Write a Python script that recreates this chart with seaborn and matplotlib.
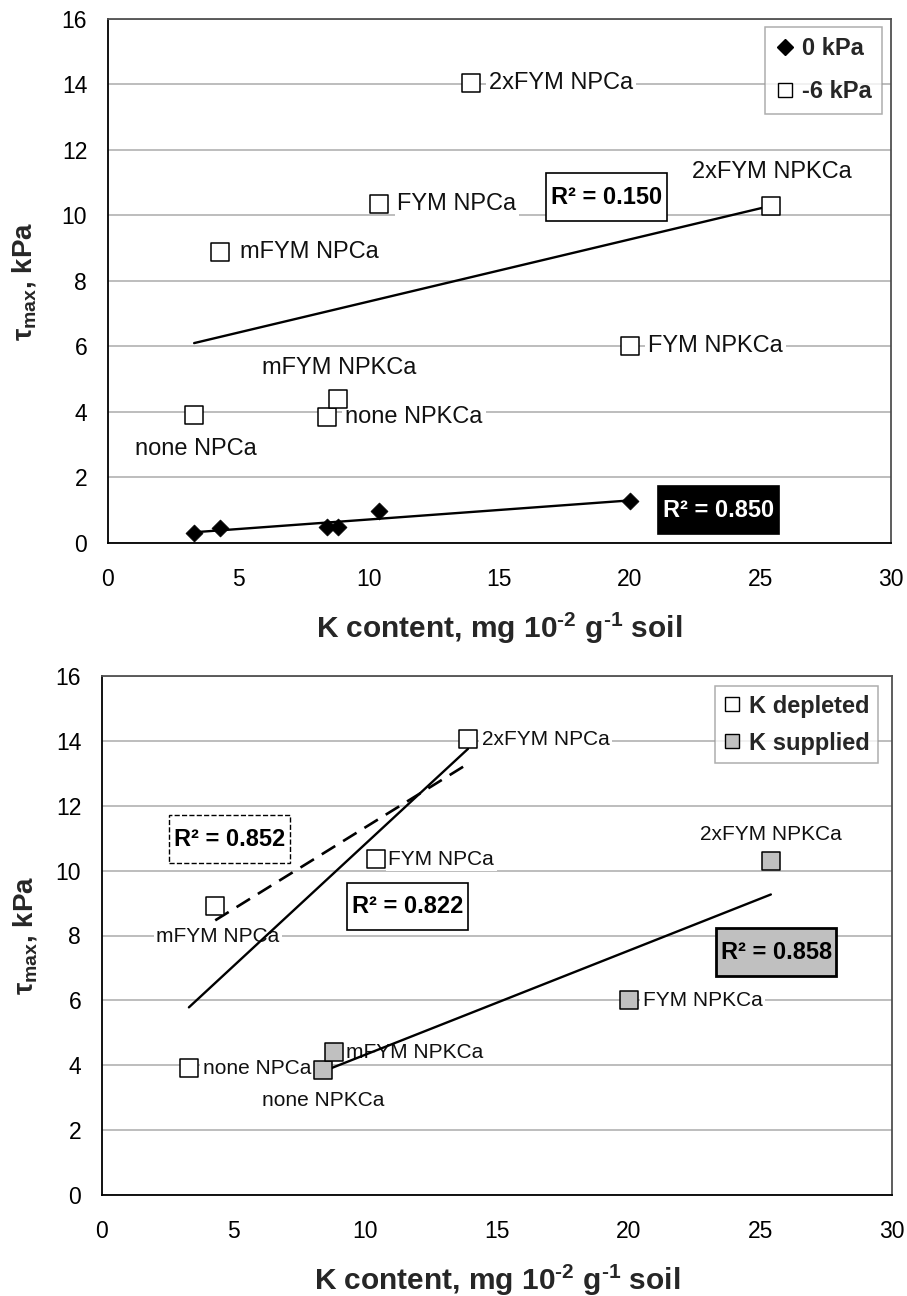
import matplotlib
matplotlib.use("Agg")
import matplotlib.pyplot as plt
import seaborn as sns
from matplotlib.lines import Line2D
from matplotlib.path import Path

# ---------------------------------------------------------------------------
# Data: K content (mg 10^-2 g^-1 soil) and maximum shear stress tau_max (kPa)
# ---------------------------------------------------------------------------
npca_names = ["none NPCa", "mFYM NPCa", "FYM NPCa", "2xFYM NPCa"]
npkca_names = ["none NPKCa", "mFYM NPKCa", "FYM NPKCa", "2xFYM NPKCa"]

k_npca = [3.3, 4.3, 10.4, 13.9]
k_npkca = [8.4, 8.8, 20.0, 25.4]

# tau_max at -6 kPa matric potential
tau6_npca = [3.9, 8.9, 10.35, 14.05]
tau6_npkca = [3.85, 4.4, 6.0, 10.3]

# tau_max at 0 kPa matric potential
k_0kpa = [3.3, 4.3, 8.4, 8.8, 10.4, 20.0]
tau_0kpa = [0.30, 0.47, 0.49, 0.50, 0.99, 1.28]

# coefficients of determination of the fitted lines
r2_0kpa = "0.850"
r2_6kpa = "0.150"
r2_depleted_manured = "0.852"
r2_depleted = "0.822"
r2_supplied = "0.858"

x_ticks = [0, 5, 10, 15, 20, 25, 30]
y_ticks = [0, 2, 4, 6, 8, 10, 12, 14, 16]

# ---------------------------------------------------------------------------
sns.set_style("white")
plt.rcParams["font.family"] = ["Liberation Sans", "DejaVu Sans"]
plt.rcParams["mathtext.fontset"] = "custom"
plt.rcParams["mathtext.rm"] = "Liberation Sans"
plt.rcParams["mathtext.it"] = "Liberation Sans:italic"
plt.rcParams["mathtext.bf"] = "Liberation Sans:bold"

W, H = 907, 1296
fig = plt.figure(figsize=(W / 100, H / 100), dpi=100)
fig.patch.set_facecolor("white")

ax_top = fig.add_axes([108 / W, 1 - 543 / H, (891 - 108) / W, (543 - 19) / H])
ax_bot = fig.add_axes([102 / W, 1 - 1195 / H, (892 - 102) / W, (1195 - 676) / H])

GRID = "#ababab"
GREY_FILL = "#c0c0c0"
HYPHEN = "\u2010"


def style_axes(ax, ylabel_pad):
    ax.set_xlim(0, 30)
    ax.set_ylim(0, 16)
    ax.set_xticks(x_ticks)
    ax.set_yticks(y_ticks)
    ax.set_axisbelow(True)
    ax.yaxis.grid(True, color=GRID, lw=1.1)
    ax.xaxis.grid(False)
    for side in ("left", "bottom"):
        ax.spines[side].set_color("black")
        ax.spines[side].set_linewidth(1.3)
    for side in ("top", "right"):
        ax.spines[side].set_color("#505050")
        ax.spines[side].set_linewidth(1.3)
    ax.tick_params(axis="both", direction="out", length=6, width=1,
                   color="black", labelsize=16.5, labelcolor="black")
    ax.tick_params(axis="x", pad=12)
    ax.tick_params(axis="y", pad=9)
    ax.set_xlabel("K content, mg 10$^{\\mathbf{" + HYPHEN + "2}}$ g$^{\\mathbf{"
                  + HYPHEN + "1}}$ soil",
                  fontsize=21.5, fontweight="bold", labelpad=14)
    ax.set_ylabel(r"$\mathbf{\tau_{max}}$, kPa", fontsize=20,
                  fontweight="bold", labelpad=ylabel_pad)


def label_points(ax, xs, ys, names, offsets, size):
    for x, y, name, (dx, dy, ha) in zip(xs, ys, names, offsets):
        ax.annotate(name, (x, y), xytext=(dx, dy), textcoords="offset points",
                    ha=ha, va="center", fontsize=size, color="#111111",
                    bbox=dict(boxstyle="square,pad=0.12", fc="white", ec="none"),
                    zorder=2)


def wide_box(x0, y0, width, height, mutation_size):
    """Rectangular frame with separate horizontal and vertical padding."""
    px, py = 0.2 * mutation_size, 0.52 * mutation_size
    x1, y1 = x0 + width + px, y0 + height + py
    x0, y0 = x0 - px, y0 - py
    return Path([(x0, y0), (x1, y0), (x1, y1), (x0, y1), (x0, y0)], closed=True)


def r2_box(ax, x, y, value, fc="white", tc="black", ls="-", lw=1.2):
    ax.text(x, y, f"R² = {value}", ha="center", va="center", fontsize=17,
            fontweight="bold", color=tc, zorder=6,
            bbox=dict(boxstyle=wide_box, fc=fc, ec="black", lw=lw, ls=ls))


# ---------------------------- upper panel ----------------------------------
ax = ax_top
sns.regplot(x=k_npca + k_npkca, y=tau6_npca + tau6_npkca, ax=ax, scatter=False,
            ci=None, truncate=True, color="black", line_kws=dict(lw=1.7, zorder=3))
sns.regplot(x=k_0kpa, y=tau_0kpa, ax=ax, scatter=False, ci=None, truncate=True,
            color="black", line_kws=dict(lw=1.7, zorder=3))
sns.scatterplot(x=k_npca + k_npkca, y=tau6_npca + tau6_npkca, ax=ax, marker="s",
                s=150, color="white", edgecolor="black", linewidth=1.1, zorder=4)
sns.scatterplot(x=k_0kpa, y=tau_0kpa, ax=ax, marker="D", s=75, color="black",
                edgecolor="black", linewidth=0.5, zorder=4)

top_offsets_npca = [(1, -24, "center"), (14, 0, "left"), (13, 0, "left"), (13, 0, "left")]
top_offsets_npkca = [(13, 0, "left"), (1, 22, "center"), (13, 0, "left"), (1, 24, "center")]
label_points(ax, k_npca, tau6_npca, npca_names, top_offsets_npca, 17)
label_points(ax, k_npkca, tau6_npkca, npkca_names, top_offsets_npkca, 17)

r2_box(ax, 19.1, 10.56, r2_6kpa)
r2_box(ax, 23.4, 1.0, r2_0kpa, fc="black", tc="white")

handles = [
    Line2D([], [], marker="D", ls="none", color="black", markersize=8),
    Line2D([], [], marker="s", ls="none", mfc="white", mec="black", markersize=10, mew=1),
]
leg = ax.legend(handles, ["0 kPa", "-6 kPa"], loc="upper right",
                bbox_to_anchor=(1.004, 1.008), frameon=True, fancybox=False,
                prop=dict(size=17, weight="bold"), handlelength=0.8,
                handletextpad=0.3, borderpad=0.45, labelspacing=0.85,
                edgecolor="#9a9a9a")
leg.get_frame().set_linewidth(1.1)
style_axes(ax, ylabel_pad=17)

# ---------------------------- lower panel ----------------------------------
ax = ax_bot
sns.regplot(x=k_npca, y=tau6_npca, ax=ax, scatter=False, ci=None, truncate=True,
            color="black", line_kws=dict(lw=1.7, zorder=3))
sns.regplot(x=k_npca[1:], y=tau6_npca[1:], ax=ax, scatter=False, ci=None,
            truncate=True, color="black",
            line_kws=dict(lw=1.9, ls=(0, (6, 3.5)), zorder=3))
sns.regplot(x=k_npkca, y=tau6_npkca, ax=ax, scatter=False, ci=None, truncate=True,
            color="black", line_kws=dict(lw=1.7, zorder=3))
sns.scatterplot(x=k_npca, y=tau6_npca, ax=ax, marker="s", s=150, color="white",
                edgecolor="black", linewidth=1.1, zorder=4)
sns.scatterplot(x=k_npkca, y=tau6_npkca, ax=ax, marker="s", s=150, color=GREY_FILL,
                edgecolor="black", linewidth=1.1, zorder=4)

bot_offsets_npca = [(10, 0, "left"), (2, -22, "center"), (9, 0, "left"), (10, 0, "left")]
bot_offsets_npkca = [(0, -22, "center"), (9, 0, "left"), (10, 0, "left"), (0, 19, "center")]
label_points(ax, k_npca, tau6_npca, npca_names, bot_offsets_npca, 15)
label_points(ax, k_npkca, tau6_npkca, npkca_names, bot_offsets_npkca, 15)

r2_box(ax, 4.83, 10.97, r2_depleted_manured, ls="--", lw=1.0)
r2_box(ax, 11.6, 8.89, r2_depleted)
r2_box(ax, 25.6, 7.49, r2_supplied, fc=GREY_FILL, lw=2.0)

handles = [
    Line2D([], [], marker="s", ls="none", mfc="white", mec="black", markersize=10, mew=1),
    Line2D([], [], marker="s", ls="none", mfc=GREY_FILL, mec="black", markersize=10, mew=1),
]
leg = ax.legend(handles, ["K depleted", "K supplied"], loc="upper right",
                bbox_to_anchor=(0.997, 1.003), frameon=True, fancybox=False,
                prop=dict(size=17, weight="bold"), handlelength=0.8,
                handletextpad=0.3, borderpad=0.35, labelspacing=0.6,
                edgecolor="#9a9a9a")
leg.get_frame().set_linewidth(1.1)
style_axes(ax, ylabel_pad=12)

fig.savefig("out.png", dpi=100, facecolor="white")
